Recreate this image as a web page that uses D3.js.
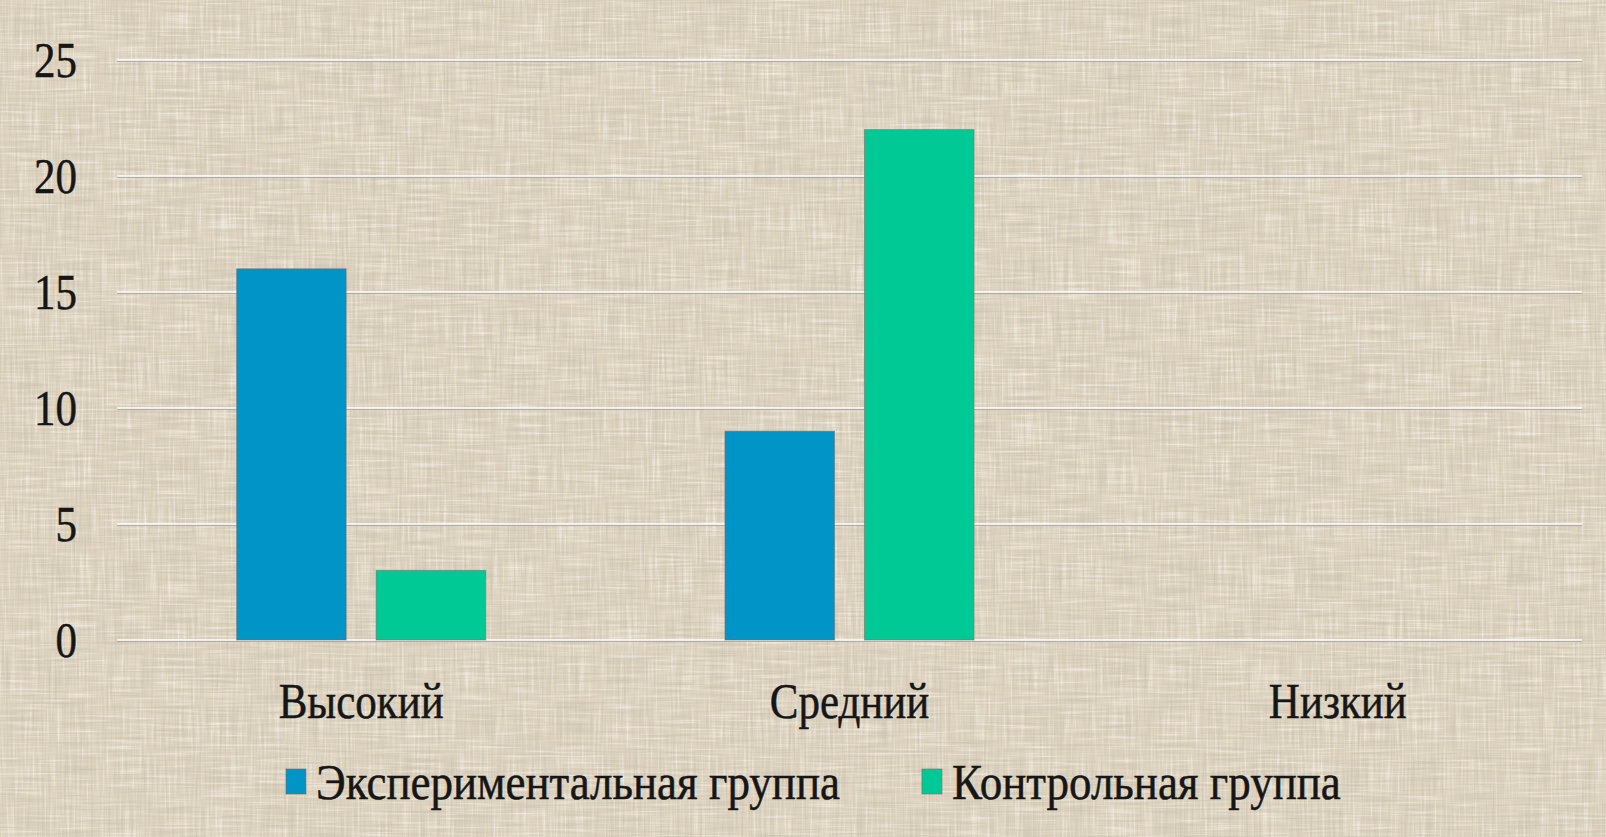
<!DOCTYPE html>
<html>
<head>
<meta charset="utf-8">
<script src="https://cdn.jsdelivr.net/npm/d3@7"></script>
<style>
  html, body { margin: 0; padding: 0; background: #ffffff; }
  svg { display: block; }
</style>
</head>
<body>
<svg id="chart" width="1606" height="837"></svg>
<script>
// Number of pupils at each level, by group
const categories = ["Высокий", "Средний", "Низкий"];
const seriesNames = ["Экспериментальная группа", "Контрольная группа"];
const experimentalValues = [16, 9, 0];
const controlValues = [3, 22, 0];
const yTicks = [0, 5, 10, 15, 20, 25];
const seriesColors = ["#0094c7", "#00c996"];

const W = 1606, H = 837;
const plot = { left: 117, right: 1582, top: 60, bottom: 640 };
const FONT = 50;      // label font size
const SX = 0.86;      // axis labels are set in a condensed width
const SX_LEGEND = 0.9;
const FAMILY = "'Liberation Serif', 'Times New Roman', serif";

const svg = d3.select("#chart");

// ---- linen background -------------------------------------------------
const defs = svg.append("defs");
const f = defs.append("filter").attr("id", "linen")
  .attr("x", 0).attr("y", 0).attr("width", W).attr("height", H)
  .attr("filterUnits", "userSpaceOnUse");
f.append("feFlood").attr("flood-color", "#e0d6c2").attr("result", "base");
// vertical threads
f.append("feTurbulence").attr("type", "fractalNoise")
  .attr("baseFrequency", "0.45 0.02").attr("numOctaves", 2).attr("seed", 7).attr("result", "nv");
f.append("feColorMatrix").attr("in", "nv").attr("type", "matrix")
  .attr("values", "0 0 0 0 0.58  0 0 0 0 0.52  0 0 0 0 0.42  1.6 0 0 0 -0.72").attr("result", "dv");
f.append("feColorMatrix").attr("in", "nv").attr("type", "matrix")
  .attr("values", "0 0 0 0 0.97  0 0 0 0 0.95  0 0 0 0 0.90  -1.6 0 0 0 0.68").attr("result", "lv");
// horizontal threads
f.append("feTurbulence").attr("type", "fractalNoise")
  .attr("baseFrequency", "0.02 0.45").attr("numOctaves", 2).attr("seed", 19).attr("result", "nh");
f.append("feColorMatrix").attr("in", "nh").attr("type", "matrix")
  .attr("values", "0 0 0 0 0.58  0 0 0 0 0.52  0 0 0 0 0.42  1.6 0 0 0 -0.72").attr("result", "dh");
f.append("feColorMatrix").attr("in", "nh").attr("type", "matrix")
  .attr("values", "0 0 0 0 0.97  0 0 0 0 0.95  0 0 0 0 0.90  -1.6 0 0 0 0.68").attr("result", "lh");
const merge = f.append("feMerge");
["base", "dv", "lv", "dh", "lh"].forEach(r => merge.append("feMergeNode").attr("in", r));

svg.append("rect")
  .attr("x", 8).attr("y", 7).attr("width", W - 8).attr("height", H - 7)
  .attr("fill", "#e0d6c2")
  .attr("filter", "url(#linen)");

// ---- scales -------------------------------------------------------------
const y = d3.scaleLinear().domain([0, 25]).range([plot.bottom, plot.top]);
const x = d3.scaleBand().domain(categories).range([plot.left, plot.right]).padding(0);
const groupW = x.bandwidth() * 0.51;
const xSub = d3.scaleBand().domain(seriesNames).range([0, groupW]).paddingInner(0.215).paddingOuter(0);

// condensed text helper
function label(g, txt, px, py, anchor, sx = SX) {
  return g.append("text")
    .attr("transform", `translate(${px},${py}) scale(${sx},1)`)
    .attr("text-anchor", anchor)
    .attr("font-family", FAMILY)
    .attr("font-size", FONT)
    .attr("fill", "#161616")
    .attr("stroke", "#161616")
    .attr("stroke-width", 0.5)
    .text(txt);
}

// ---- gridlines ------------------------------------------------------------
const grid = svg.append("g");
yTicks.forEach(t => {
  const yy = Math.round(y(t));
  grid.append("line").attr("x1", plot.left).attr("x2", plot.right)
    .attr("y1", yy + 1.2).attr("y2", yy + 1.2)
    .attr("stroke", "#a3a09a").attr("stroke-width", 1.2);
  grid.append("line").attr("x1", plot.left).attr("x2", plot.right)
    .attr("y1", yy).attr("y2", yy)
    .attr("stroke", "#ffffff").attr("stroke-width", 1.6);
});

// ---- y tick labels -----------------------------------------------------
const yl = svg.append("g");
yTicks.forEach(t => label(yl, String(t), 77, y(t) + 17, "end"));

// ---- bars ---------------------------------------------------------------
const rows = categories.map((c, i) => ({
  category: c,
  values: [experimentalValues[i], controlValues[i]]
}));
const bars = svg.append("g");
rows.forEach(r => {
  const gx = x(r.category) + (x.bandwidth() - groupW) / 2;
  r.values.forEach((v, j) => {
    if (v <= 0) return;
    bars.append("rect")
      .attr("x", gx + xSub(seriesNames[j]))
      .attr("y", y(v))
      .attr("width", xSub.bandwidth())
      .attr("height", y(0) - y(v))
      .attr("fill", seriesColors[j])
      .attr("stroke", "rgba(110,110,110,0.55)")
      .attr("stroke-width", 1);
  });
});

// ---- category labels ---------------------------------------------------
const cl = svg.append("g");
categories.forEach(c => label(cl, c, x(c) + x.bandwidth() / 2, 718, "middle"));

// ---- legend -------------------------------------------------------------
const lg = svg.append("g");
let lx = 286;
seriesNames.forEach((s, j) => {
  lg.append("rect").attr("x", lx).attr("y", 769).attr("width", 20).attr("height", 25)
    .attr("fill", seriesColors[j])
    .attr("stroke", "rgba(110,110,110,0.6)").attr("stroke-width", 1);
  const t = label(lg, s, lx + 30, 799, "start", SX_LEGEND);
  const w = t.node().getBBox().width * SX_LEGEND;
  lx = lx + 30 + w + 82;
});
</script>
</body>
</html>
